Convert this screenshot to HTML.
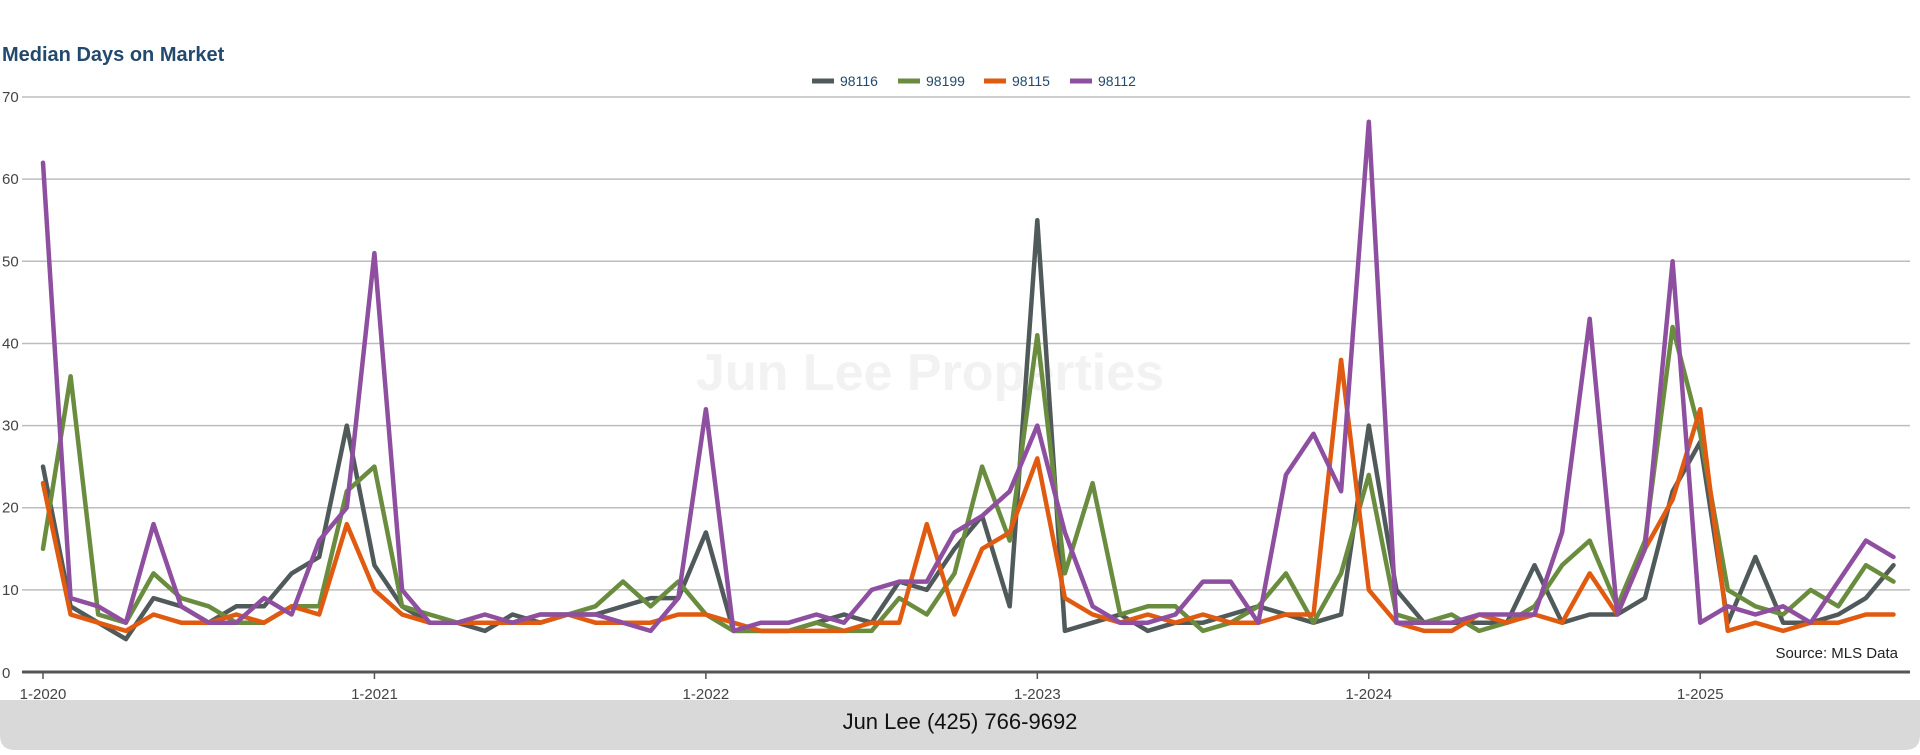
<!DOCTYPE html>
<html><head><meta charset="utf-8"><style>
body{margin:0;width:1920px;height:750px;background:#fff;overflow:hidden;font-family:"Liberation Sans",sans-serif}
</style></head><body>
<svg id="s" width="1920" height="750" xmlns="http://www.w3.org/2000/svg" font-family="Liberation Sans, sans-serif">
<text x="2" y="61" font-size="20" font-weight="bold" fill="#234a6e">Median Days on Market</text>
<text x="930" y="390" font-size="52" font-weight="bold" fill="#f2f2f2" text-anchor="middle">Jun Lee Properties</text>
<g id="grid"></g>
<g font-size="14" fill="#234a6e">
<line x1="812" y1="81" x2="834" y2="81" stroke="#505a5a" stroke-width="5"/><text x="840" y="86">98116</text>
<line x1="898" y1="81" x2="920" y2="81" stroke="#6a8c3f" stroke-width="5"/><text x="926" y="86">98199</text>
<line x1="984" y1="81" x2="1006" y2="81" stroke="#e05a10" stroke-width="5"/><text x="1012" y="86">98115</text>
<line x1="1070" y1="81" x2="1092" y2="81" stroke="#8e4fa0" stroke-width="5"/><text x="1098" y="86">98112</text>
</g>
<g id="lines"></g>
<text x="1898" y="658" font-size="15" fill="#222" text-anchor="end">Source: MLS Data</text>
<path d="M0,700 H1920 V735 Q1920,750 1905,750 H15 Q0,750 0,735 Z" fill="#d9d9d9"/>
<text x="960" y="729" font-size="22" fill="#111" text-anchor="middle">Jun Lee (425) 766-9692</text>
</svg>
<script>
var X0=43,DX=27.62,Y0=672,DY=8.214;
var NS="http://www.w3.org/2000/svg";
function el(p,t,a,txt){var e=document.createElementNS(NS,t);for(var k in a)e.setAttribute(k,a[k]);if(txt!==undefined)e.textContent=txt;p.appendChild(e);return e;}
var g=document.getElementById('grid');
for(var v=10;v<=70;v+=10){var y=Y0-v*DY;el(g,'line',{x1:22,x2:1910,y1:y,y2:y,stroke:'#bdbdbd','stroke-width':1.5});el(g,'text',{x:2,y:y+5,'font-size':15,fill:'#444'},v);}
el(g,'text',{x:2,y:Y0+6,'font-size':15,fill:'#444'},0);
el(g,'line',{x1:22,x2:1910,y1:Y0,y2:Y0,stroke:'#555','stroke-width':3});
for(var yr=0;yr<6;yr++){var x=X0+yr*12*DX;el(g,'line',{x1:x,x2:x,y1:Y0,y2:Y0+7,stroke:'#555','stroke-width':1.5});el(g,'text',{x:x,y:Y0+27,'font-size':15,fill:'#444','text-anchor':'middle'},'1-'+(2020+yr));}
var D={
'#505a5a':[25,8,6,4,9,8,6,8,8,12,14,30,13,8,6,6,5,7,6,7,7,8,9,9,17,5,5,5,6,7,6,11,10,15,19,8,55,5,6,7,5,6,6,7,8,7,6,7,30,10,6,6,6,6,13,6,7,7,9,22,28,6,14,6,6,7,9,13],
'#6a8c3f':[15,36,7,6,12,9,8,6,6,8,8,22,25,8,7,6,6,6,7,7,8,11,8,11,7,5,5,5,6,5,5,9,7,12,25,16,41,12,23,7,8,8,5,6,8,12,6,12,24,7,6,7,5,6,8,13,16,8,16,42,29,10,8,7,10,8,13,11],
'#e05a10':[23,7,6,5,7,6,6,7,6,8,7,18,10,7,6,6,6,6,6,7,6,6,6,7,7,6,5,5,5,5,6,6,18,7,15,17,26,9,7,6,7,6,7,6,6,7,7,38,10,6,5,5,7,6,7,6,12,7,15,21,32,5,6,5,6,6,7,7],
'#8e4fa0':[62,9,8,6,18,8,6,6,9,7,16,20,51,10,6,6,7,6,7,7,7,6,5,9,32,5,6,6,7,6,10,11,11,17,19,22,30,17,8,6,6,7,11,11,6,24,29,22,67,6,6,6,7,7,7,17,43,7,15,50,6,8,7,8,6,11,16,14]};
var L=document.getElementById('lines');
for(var c in D){var p=D[c].map(function(v,i){return (X0+i*DX).toFixed(1)+','+(Y0-v*DY).toFixed(1)}).join(' ');
el(L,'polyline',{points:p,fill:'none',stroke:c,'stroke-width':4.5,'stroke-linejoin':'round','stroke-linecap':'round'});}
</script>
</body></html>
